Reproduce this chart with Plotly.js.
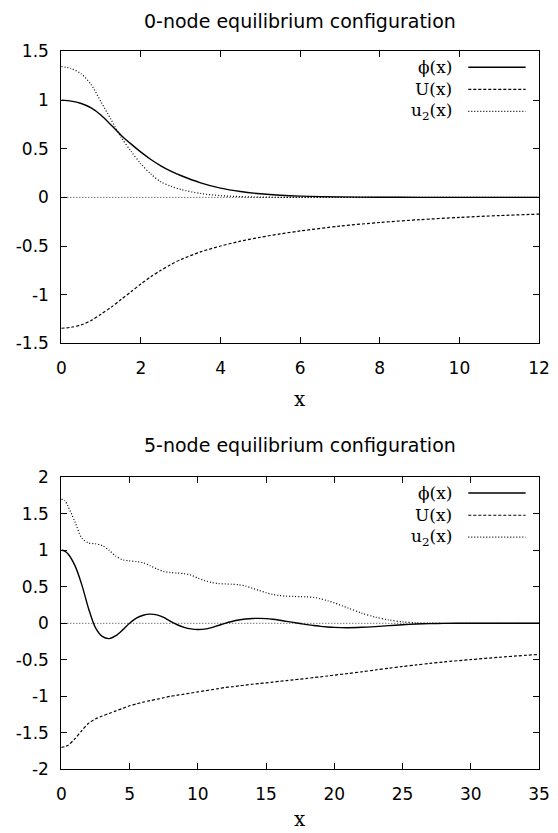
<!DOCTYPE html>
<html>
<head>
<meta charset="utf-8">
<script src="https://cdn.plot.ly/plotly-3.0.1.min.js"></script>
<style>html,body{margin:0;padding:0;background:#fff;}#chart{width:558px;height:833px;}</style>
</head>
<body>
<div id="chart"></div>
<script>
// ---------- 0-node configuration ----------
const xTop = [0,0.25,0.5,0.75,1,1.25,1.5,1.75,2,2.25,2.5,2.75,3,3.5,4,4.5,5,5.5,6,7,8,9,10,11,12];
const phiTop = [1.0,0.99,0.965,0.92,0.845,0.745,0.64,0.55,0.465,0.39,0.325,0.27,0.225,0.15,0.095,0.06,0.037,0.022,0.013,0.005,0.002,0.0007,0.0002,0.0001,0];
const UTop = [-1.345,-1.335,-1.31,-1.265,-1.2,-1.13,-1.05,-0.97,-0.89,-0.815,-0.75,-0.69,-0.64,-0.56,-0.50,-0.45,-0.41,-0.375,-0.345,-0.295,-0.258,-0.229,-0.206,-0.187,-0.172];
const u2Top = [1.345,1.325,1.27,1.16,0.98,0.80,0.62,0.475,0.345,0.24,0.16,0.115,0.082,0.04,0.018,0.008,0.003,0.001,0,0,0,0,0,0,0];

// ---------- 5-node configuration ----------
const xBot = [0,0.25,0.5,1,1.5,2,2.5,3,3.5,4,4.5,5,5.5,6,6.5,7,7.5,8,8.5,9,9.5,10,10.5,11,11.5,12,12.5,13,13.5,14,14.5,15,15.5,16,16.5,17,17.5,18,18.5,19,19.5,20,21,22,23,24,25,26,27,28,30,32,35];
const phiBot = [1.0,0.99,0.95,0.79,0.53,0.20,-0.06,-0.18,-0.21,-0.17,-0.09,0.0,0.07,0.11,0.125,0.115,0.08,0.025,-0.02,-0.055,-0.077,-0.085,-0.08,-0.06,-0.03,0.0,0.025,0.045,0.058,0.066,0.068,0.064,0.055,0.042,0.027,0.012,-0.003,-0.018,-0.03,-0.042,-0.05,-0.056,-0.06,-0.055,-0.045,-0.032,-0.02,-0.01,-0.004,-0.001,0,0,0];
const UBot = [-1.70,-1.69,-1.67,-1.58,-1.47,-1.37,-1.31,-1.27,-1.235,-1.20,-1.165,-1.13,-1.105,-1.08,-1.06,-1.04,-1.02,-1.0,-0.985,-0.97,-0.955,-0.94,-0.925,-0.91,-0.895,-0.88,-0.869,-0.858,-0.846,-0.835,-0.825,-0.815,-0.805,-0.795,-0.785,-0.775,-0.765,-0.755,-0.744,-0.733,-0.722,-0.71,-0.688,-0.665,-0.64,-0.615,-0.592,-0.57,-0.55,-0.53,-0.497,-0.466,-0.426];
const u2Bot = [1.70,1.68,1.60,1.39,1.17,1.10,1.09,1.065,1.0,0.92,0.87,0.855,0.845,0.83,0.79,0.745,0.71,0.695,0.688,0.68,0.66,0.62,0.585,0.56,0.545,0.54,0.535,0.528,0.51,0.48,0.45,0.42,0.395,0.38,0.372,0.368,0.365,0.362,0.355,0.335,0.31,0.28,0.21,0.14,0.085,0.045,0.02,0.006,0.002,0,0,0,0];

// ---------- labels ----------
const titles = ["0-node equilibrium configuration", "5-node equilibrium configuration"];
const seriesNames = ["ϕ(x)", "U(x)", "u<sub>2</sub>(x)"];
const xTickValsTop = [0,2,4,6,8,10,12];
const xTickTextTop = ["0","2","4","6","8","10","12"];
const yTickValsTop = [-1.5,-1,-0.5,0,0.5,1,1.5];
const yTickTextTop = ["-1.5","-1","-0.5","0","0.5","1","1.5"];
const xTickValsBot = [0,5,10,15,20,25,30,35];
const xTickTextBot = ["0","5","10","15","20","25","30","35"];
const yTickValsBot = [-2,-1.5,-1,-0.5,0,0.5,1,1.5,2];
const yTickTextBot = ["-2","-1.5","-1","-0.5","0","0.5","1","1.5","2"];
const xLabel = "x";

// ---------- styles ----------
const dashes = ["solid", "3px,2px", "1px,2px"];
const widths = [1.4, 1.2, 1.2];
const sansFont = "DejaVu Sans";
const serifFont = "DejaVu Serif";

function tr(x, y, i, xa, ya) {
  return {x: x, y: y, xaxis: xa, yaxis: ya, type: "scatter", mode: "lines",
    name: seriesNames[i], hoverinfo: "skip",
    line: {color: "#000", width: widths[i], dash: dashes[i], shape: "spline", smoothing: 0.8}};
}

const data = [
  tr(xTop, phiTop, 0, "x", "y"), tr(xTop, UTop, 1, "x", "y"), tr(xTop, u2Top, 2, "x", "y"),
  tr(xBot, phiBot, 0, "x2", "y2"), tr(xBot, UBot, 1, "x2", "y2"), tr(xBot, u2Bot, 2, "x2", "y2")
];

const xDom = [0.10986, 0.96595];
function xax(range, tv, tt, anchor) {
  return {domain: xDom, anchor: anchor, range: range, tickmode: "array", tickvals: tv, ticktext: tt,
    ticks: "inside", ticklen: 6, tickcolor: "#000", showline: true, linecolor: "#000", linewidth: 1,
    mirror: "ticks", showgrid: false, zeroline: false, automargin: false,
    tickfont: {family: sansFont, size: 17, color: "#000"}, ticklabelstandoff: 9};
}
function yax(range, tv, tt, anchor, dom) {
  return {domain: dom, anchor: anchor, range: range, tickmode: "array", tickvals: tv, ticktext: tt,
    ticks: "inside", ticklen: 6, tickcolor: "#000", showline: true, linecolor: "#000", linewidth: 1,
    mirror: "ticks", showgrid: false, zeroline: false, automargin: false,
    tickfont: {family: sansFont, size: 17, color: "#000"}, ticklabelstandoff: 8};
}

const annotations = [];
const shapes = [];
const legendY = [0.946, 0.870, 0.795];
[["x", "y", 0.9748, 0.5210], ["x2", "y2", 0.4658, 0.0168]].forEach(function (p, k) {
  annotations.push({text: titles[k], xref: p[0] + " domain", x: 0.5, xanchor: "center",
    yref: "paper", y: p[2], yanchor: "middle", showarrow: false,
    font: {family: sansFont, size: 19, color: "#000"}});
  annotations.push({text: xLabel, xref: p[0] + " domain", x: 0.5, xanchor: "center",
    yref: "paper", y: p[3], yanchor: "middle", showarrow: false,
    font: {family: serifFont, size: 20, color: "#000"}});
  for (let i = 0; i < 3; i++) {
    annotations.push({text: seriesNames[i], xref: p[0] + " domain", x: 0.822, xanchor: "right",
      yref: p[1] + " domain", y: legendY[i], yanchor: "middle", showarrow: false,
      font: {family: serifFont, size: 17, color: "#000"}});
    shapes.push({type: "line", xref: p[0] + " domain", yref: p[1] + " domain",
      x0: 0.852, x1: 0.972, y0: legendY[i], y1: legendY[i],
      line: {color: "#000", width: widths[i], dash: dashes[i]}});
  }
  shapes.push({type: "line", xref: p[0] + " domain", yref: p[1], x0: 0, x1: 1, y0: 0, y1: 0,
    line: {color: "#333", width: 1, dash: "1px,2px"}, layer: "below"});
});

const layout = {
  width: 558, height: 833, margin: {l: 0, r: 0, t: 0, b: 0},
  paper_bgcolor: "#fff", plot_bgcolor: "#fff", showlegend: false,
  font: {family: sansFont, size: 17, color: "#000"},
  xaxis: xax([0, 12], xTickValsTop, xTickTextTop, "y"),
  yaxis: yax([-1.5, 1.5], yTickValsTop, yTickTextTop, "x", [0.58787, 0.93818]),
  xaxis2: xax([0, 35], xTickValsBot, xTickTextBot, "y2"),
  yaxis2: yax([-2, 2], yTickValsBot, yTickTextBot, "x2", [0.07647, 0.42701]),
  annotations: annotations, shapes: shapes
};

Plotly.newPlot("chart", data, layout, {staticPlot: true, displayModeBar: false});
</script>
</body>
</html>
